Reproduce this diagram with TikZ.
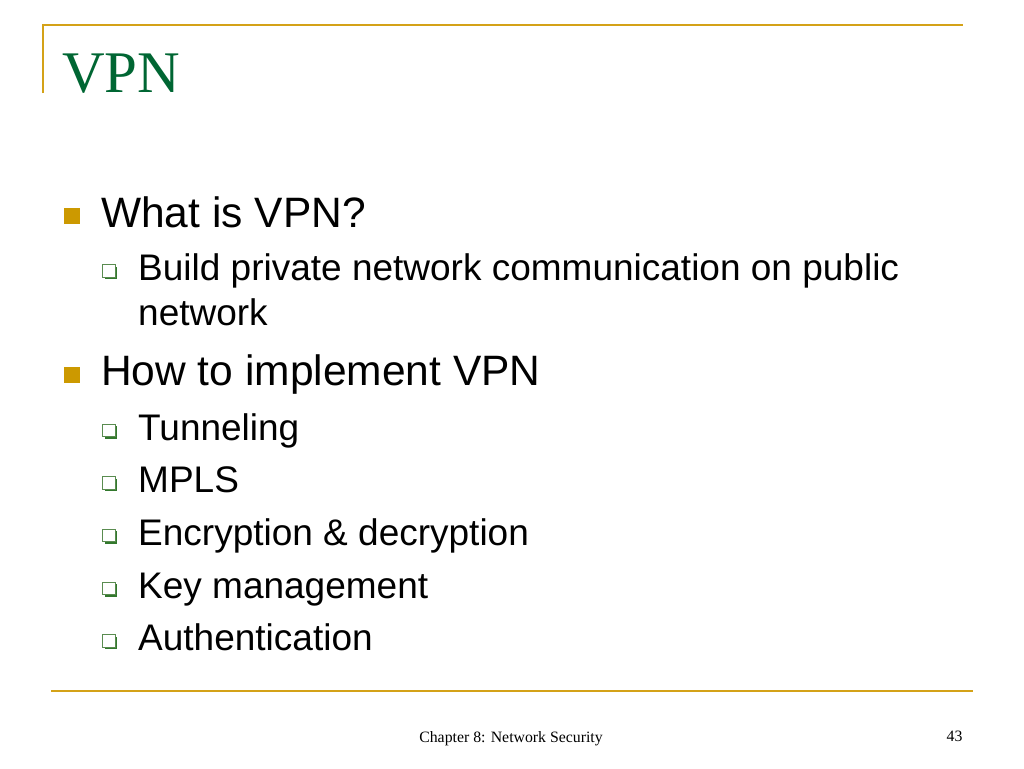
\documentclass[tikz,border=0pt]{standalone}
\usepackage{fontspec}
\setmainfont{Liberation Sans}
\newfontfamily\serifft{Liberation Serif}
\usetikzlibrary{shadows}
\definecolor{goldline}{RGB}{212,162,24}
\definecolor{goldbul}{RGB}{204,153,0}
\definecolor{titlegreen}{RGB}{0,102,51}
\definecolor{subgreen}{RGB}{90,140,80}
\definecolor{subshadow}{RGB}{50,120,45}
\tikzset{
  rule/.style={draw=goldline, line width=2pt},
  bulA/.style={fill=goldbul, minimum size=16pt, inner sep=0pt, outer sep=0pt},
  bulB/.style={draw=subgreen, line width=0.9pt, fill=white, minimum size=12.5pt, inner sep=0pt,
     drop shadow={shadow xshift=2pt, shadow yshift=-2pt, fill=subshadow, opacity=1}},
  lvA/.style={anchor=base west, inner sep=0pt, font=\fontsize{42.5}{50}\selectfont},
  lvB/.style={anchor=base west, inner sep=0pt, font=\fontsize{37}{44}\selectfont},
  foot/.style={anchor=base, inner sep=0pt, font=\serifft\fontsize{15.8}{18}\selectfont}
}
\begin{document}
\begin{tikzpicture}[x=1pt,y=-1pt]
\useasboundingbox (0,0) rectangle (1024,768);
\fill[white] (0,0) rectangle (1024,768);
% frame rules
\coordinate (tl) at (43,25);
\coordinate (tr) at (963,25);
\coordinate (vl) at (43,93);
\coordinate (bl) at (51,691);
\coordinate (br) at (973,691);
\draw[rule] (vl) -- (tl) -- (tr);
\draw[rule] (bl) -- (br);
% title
\node[anchor=base west, inner sep=0pt, text=titlegreen, font=\serifft\fontsize{59}{70}\selectfont] (title) at (62,92) {VPN};
% level 1
\node[bulA] (b1) at (71.5,216) {};
\node[lvA] (t1) at (101,227) {What is VPN?};
\node[bulB] (s1) at (109,271) {};
\node[lvB] (u1) at (138,280) {Build private network communication on public};
\node[lvB] (u1b) at (138,325) {network};
\node[bulA] (b2) at (71.5,375) {};
\node[lvA] (t2) at (101,385) {How to implement VPN};
\node[bulB] (s2) at (109,430.5) {};
\node[lvB] (u2) at (138,440) {Tunneling};
\node[bulB] (s3) at (109,483) {};
\node[lvB] (u3) at (138,492.5) {MPLS};
\node[bulB] (s4) at (109,535.5) {};
\node[lvB] (u4) at (138,545) {Encryption \& decryption};
\node[bulB] (s5) at (109,588.5) {};
\node[lvB] (u5) at (138,598) {Key management};
\node[bulB] (s6) at (109,641) {};
\node[lvB] (u6) at (138,650.5) {Authentication};
% footer
\node[foot] (ft) at (511,742) {Chapter 8: Network Security};
\node[foot] (pg) at (954.5,741) {43};
\end{tikzpicture}
\end{document}
